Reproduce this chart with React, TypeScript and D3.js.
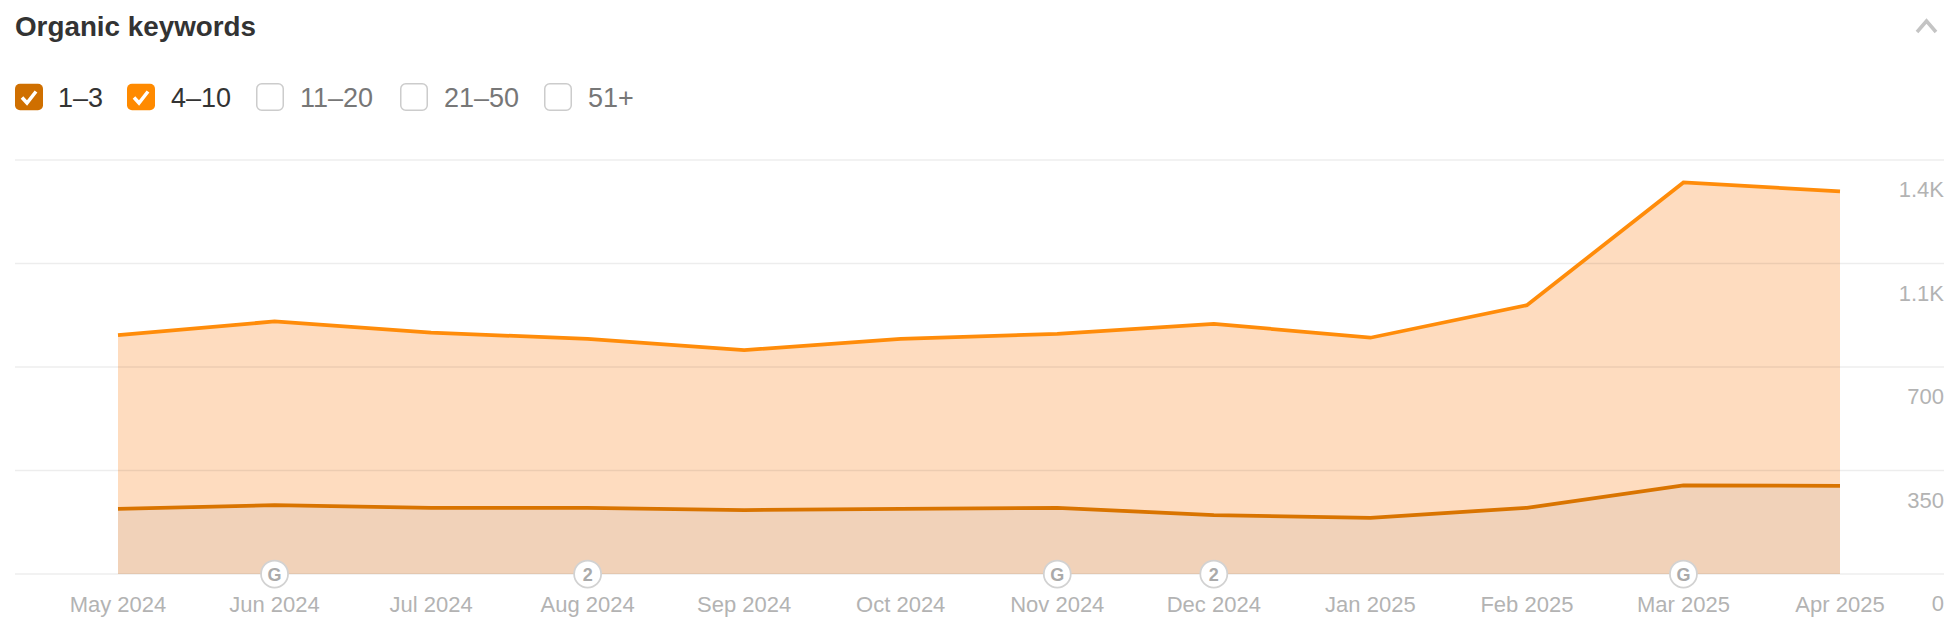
import * as d3 from "d3";

const months = [
  "May 2024", "Jun 2024", "Jul 2024", "Aug 2024", "Sep 2024", "Oct 2024",
  "Nov 2024", "Dec 2024", "Jan 2025", "Feb 2025", "Mar 2025", "Apr 2025",
];
const top3 = [220, 233, 224, 224, 216, 220, 224, 199, 190, 224, 300, 298];
const top10 = [588, 621, 592, 571, 541, 575, 588, 647, 609, 685, 1024, 996];
const yTicks = [0, 350, 700, 1050, 1400];
const yLabels = ["0", "350", "700", "1.1K", "1.4K"];
const events = [
  { month: "Jun 2024", label: "G" },
  { month: "Aug 2024", label: "2" },
  { month: "Nov 2024", label: "G" },
  { month: "Dec 2024", label: "2" },
  { month: "Mar 2025", label: "G" },
];
const legendItems = [
  { label: "1–3", box: 15, text: 58, color: "#cf6f00" },
  { label: "4–10", box: 127, text: 171, color: "#ff8a00" },
  { label: "11–20", box: 256, text: 300, color: null },
  { label: "21–50", box: 400, text: 444, color: null },
  { label: "51+", box: 544, text: 588, color: null },
];

const font = "'Liberation Sans', Arial, sans-serif";

export default function App() {
  const x = d3.scalePoint<string>().domain(months).range([118, 1840]);
  const y = d3.scaleLinear().domain([0, 1400]).range([574, 160]);

  const rows = months.map((m, i) => ({ m, a: top3[i], b: top10[i] }));
  const stacked = d3.stack<any>().keys(["a", "b"])(rows);

  const area = d3
    .area<any>()
    .x((d) => x(d.data.m) ?? 0)
    .y0((d) => y(d[0]))
    .y1((d) => y(d[1]));
  const line = d3
    .line<any>()
    .x((d) => x(d.data.m) ?? 0)
    .y((d) => y(d[1]));

  return (
    <svg
      width={1960}
      height={640}
      style={{ position: "absolute", left: 0, top: 0, fontFamily: font }}
    >
      <rect width={1960} height={640} fill="#fff" />
      <text x={15} y={36} fontSize={27.8} fontWeight={700} fill="#333">
        Organic keywords
      </text>
      <path
        d="M1917 32 L1926.5 21 L1936 32"
        fill="none"
        stroke="#c4c4c4"
        strokeWidth={3.5}
      />

      {legendItems.map((d) => (
        <g key={d.label}>
          <rect
            x={d.box + (d.color ? 0 : 0.75)}
            y={83.75}
            width={d.color ? 28 : 26.5}
            height={26.5}
            rx={5}
            fill={d.color ?? "#fff"}
            stroke={d.color ?? "#cccccc"}
            strokeWidth={d.color ? 0 : 1.5}
          />
          {d.color && (
            <path
              d={`M${d.box + 7} 97.5 L${d.box + 12} 103 L${d.box + 21} 91.5`}
              fill="none"
              stroke="#fff"
              strokeWidth={3.5}
            />
          )}
          <text
            x={d.text}
            y={107}
            fontSize={27}
            fill={d.color ? "#333" : "#777"}
          >
            {d.label}
          </text>
        </g>
      ))}

      <path d={area(stacked[1]) ?? ""} fill="#fedcbf" />
      <path d={area(stacked[0]) ?? ""} fill="#f1d2b9" />

      {yTicks.map((t, i) => (
        <g key={t}>
          <line
            x1={15}
            x2={1944}
            y1={y(t)}
            y2={y(t)}
            stroke="#000"
            strokeOpacity={0.07}
            strokeWidth={1.5}
          />
          <text
            x={1944}
            y={y(t) + 37}
            textAnchor="end"
            fontSize={22}
            fill="#b3b3b3"
          >
            {yLabels[i]}
          </text>
        </g>
      ))}

      <path d={line(stacked[1]) ?? ""} fill="none" stroke="#ff8c0a" strokeWidth={3.75} />
      <path d={line(stacked[0]) ?? ""} fill="none" stroke="#d97400" strokeWidth={3.75} />

      {months.map((m) => (
        <text
          key={m}
          x={x(m)}
          y={612}
          textAnchor="middle"
          fontSize={22}
          fill="#b3b3b3"
        >
          {m}
        </text>
      ))}

      {events.map((e) => (
        <g key={e.month + e.label}>
          <circle
            cx={x(e.month)}
            cy={574}
            r={13.5}
            fill="#fff"
            stroke="#d2d2d2"
            strokeWidth={1.75}
          />
          <text
            x={x(e.month)}
            y={580.5}
            textAnchor="middle"
            fontSize={18}
            fontWeight={700}
            fill="#aaaaaa"
          >
            {e.label}
          </text>
        </g>
      ))}
    </svg>
  );
}
